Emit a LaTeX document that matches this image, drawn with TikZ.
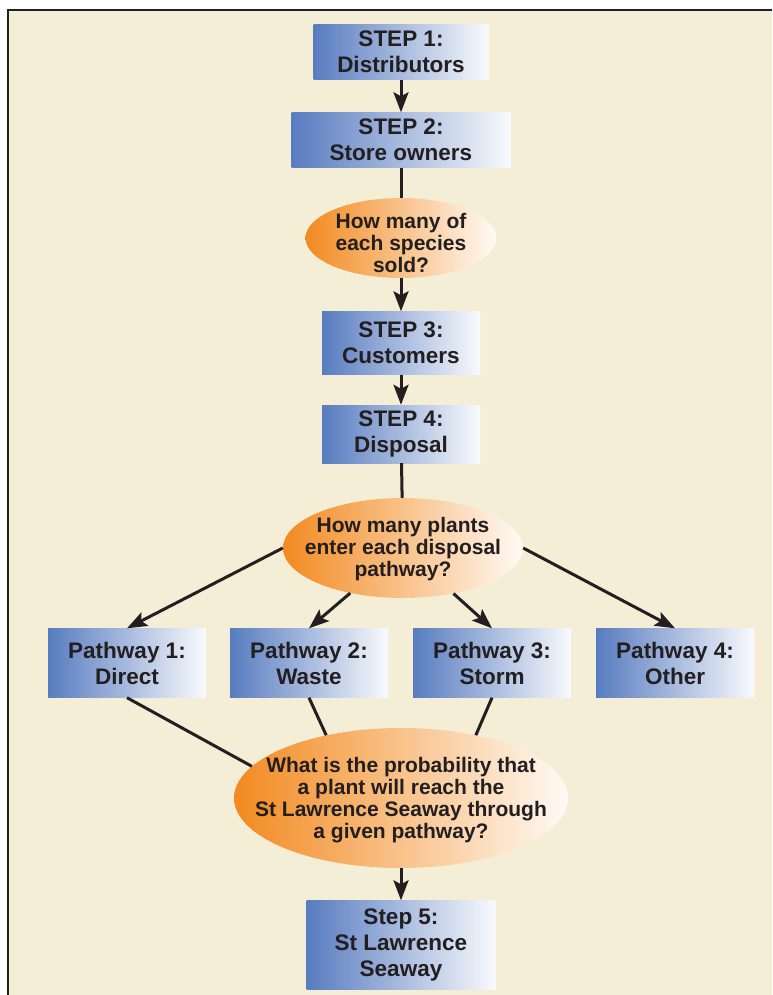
\documentclass[tikz,border=0pt]{standalone}
\usepackage{fontspec}
\setmainfont{Liberation Sans}
\usetikzlibrary{arrows.meta,shapes.geometric}

\definecolor{crema}{RGB}{244,238,215}
\definecolor{azul}{RGB}{88,124,192}
\definecolor{naranja}{RGB}{242,138,32}
\definecolor{tinta}{RGB}{35,31,32}

\begin{document}
\begin{tikzpicture}[x=1pt,y=-1pt,
		caja/.style={rectangle, inner sep=0pt, align=center, left color=azul, right color=white!96!azul,
			text=tinta, font=\fontsize{22.5}{26}\selectfont\bfseries},
		pregunta/.style={ellipse, inner sep=0pt, left color=naranja, right color=white!96!orange},
		texto/.style={align=center, inner sep=0pt, text=tinta, font=\fontsize{21}{22}\selectfont\bfseries},
		flecha/.style={draw=tinta, line width=3pt, -{Stealth[length=20pt,width=15pt,inset=4pt]}},
		linea/.style={draw=tinta, line width=3pt}]
	\useasboundingbox (0,0) rectangle (772,995);
	
	% Fondo y marco
	\fill[crema] (8,10) rectangle (772,995);
	\draw[tinta, line width=1.5pt] (8,995) -- (8,10) -- (772,10);
	
	% Pasos 1 a 4
	\node[caja, minimum width=175, minimum height=55] (s1) at (401,52) {STEP 1:\\Distributors};
	\node[caja, minimum width=219, minimum height=55] (s2) at (401,140) {STEP 2:\\Store owners};
	\node[pregunta, minimum width=191, minimum height=80] (q1) at (401,238) {};
	\node[texto] (q1t) at (401,243) {How many of\\each species\\sold?};
	\node[caja, minimum width=158, minimum height=63] (s3) at (401,343) {STEP 3:\\Customers};
	\node[caja, minimum width=158, minimum height=58] (s4) at (401,434) {STEP 4:\\Disposal};
	\node[pregunta, minimum width=240, minimum height=100] (q2) at (403,548) {};
	\node[texto] (q2t) at (403,549) {How many plants\\enter each disposal\\pathway?};
	
	\draw[flecha] (s1) -- (s2);
	\draw[linea] (s2) -- (q1);
	\draw[flecha] (q1) -- (s3);
	\draw[flecha] (s3) -- (s4);
	\draw[linea] (s4) -- (q2);
	
	% Vias de eliminacion
	\foreach \x/\n/\via in {127/1/Direct, 309/2/Waste, 492/3/Storm, 675/4/Other} {
		\node[caja, minimum width=158, minimum height=69] (p\n) at (\x,663) {Pathway \n:\\\via};
	}
	\draw[flecha] (q2.west) -- (p1.north);
	\draw[flecha] (q2) -- (p2.north);
	\draw[flecha] (q2) -- (p3.north);
	\draw[flecha] (q2.east) -- (p4.north);
	
	% Probabilidad y paso 5
	\node[pregunta, minimum width=334, minimum height=140] (q3) at (401,798) {};
	\node[texto] (q3t) at (401,800) {What is the probability that\\a plant will reach the\\St Lawrence Seaway through\\a given pathway?};
	\node[caja, minimum width=189, minimum height=89] (s5) at (401,945) {Step 5:\\St Lawrence\\Seaway};
	
	\draw[linea] (p1.south) -- (q3.168);
	\draw[linea] (p2.south) -- (q3.140);
	\draw[linea] (p3.south) -- (q3.40);
	\draw[flecha] (q3) -- (s5);
\end{tikzpicture}
\end{document}
